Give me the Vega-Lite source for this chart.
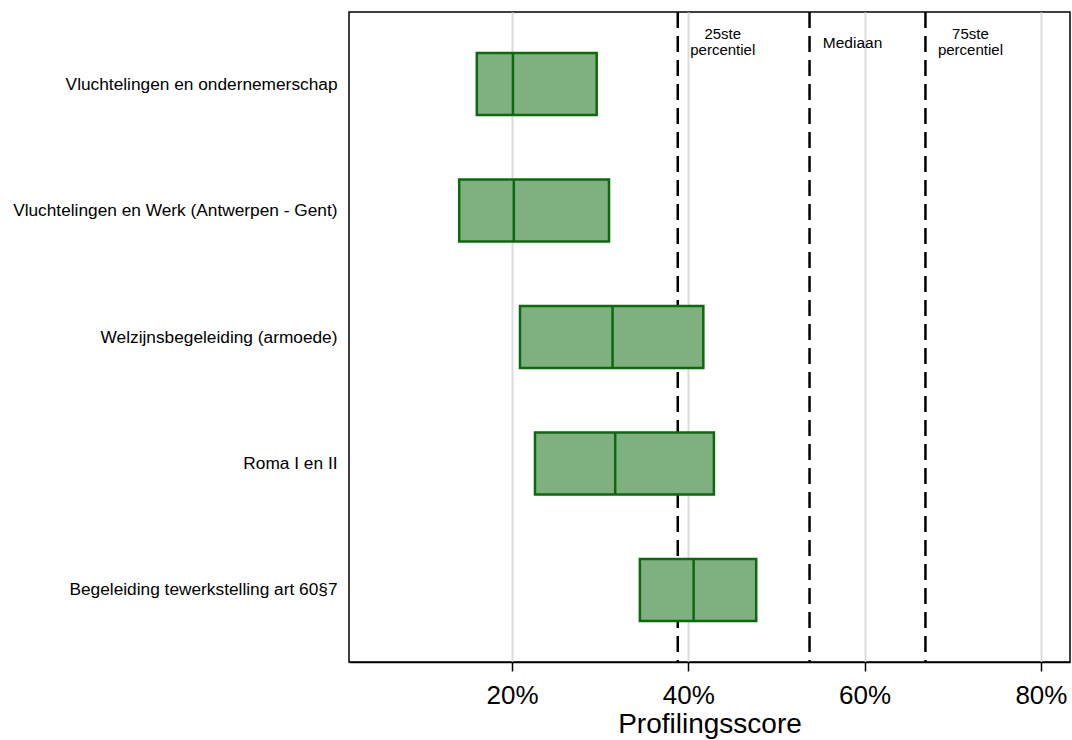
{
  "$schema": "https://vega.github.io/schema/vega-lite/v6.json",
  "width": 721,
  "height": 650,
  "autosize": {"type": "none"},
  "padding": {"left": 349, "top": 12, "right": 2, "bottom": 78},
  "background": "white",
  "config": {
    "font": "Liberation Sans",
    "view": {"stroke": "black", "strokeWidth": 1.5}
  },
  "datasets": {
    "boxes": [
      {"programma": "Vluchtelingen en ondernemerschap", "q1": 16.0, "mediaan": 20.1, "q3": 29.6},
      {"programma": "Vluchtelingen en Werk (Antwerpen - Gent)", "q1": 14.0, "mediaan": 20.2, "q3": 31.0},
      {"programma": "Welzijnsbegeleiding (armoede)", "q1": 20.9, "mediaan": 31.4, "q3": 41.7},
      {"programma": "Roma I en II", "q1": 22.6, "mediaan": 31.7, "q3": 42.9},
      {"programma": "Begeleiding tewerkstelling art 60§7", "q1": 34.5, "mediaan": 40.6, "q3": 47.7}
    ],
    "refs": [
      {"waarde": 38.8, "label": "25ste\npercentiel", "soort": "twee"},
      {"waarde": 53.75, "label": "Mediaan", "soort": "een"},
      {"waarde": 66.9, "label": "75ste\npercentiel", "soort": "twee"}
    ]
  },
  "layer": [
    {
      "data": {"name": "refs"},
      "mark": {"type": "rule", "color": "black", "strokeWidth": 2.5, "strokeDash": [16, 8]},
      "encoding": {
        "x": {
          "field": "waarde", "type": "quantitative",
          "scale": {"domain": [1.5, 83.3], "nice": false, "zero": false},
          "axis": {
            "values": [20, 40, 60, 80],
            "labelExpr": "datum.value + '%'",
            "title": "Profilingsscore",
            "titleFontSize": 28,
            "titleFontWeight": "normal",
            "titleColor": "black",
            "titlePadding": 2,
            "labelFontSize": 26,
            "labelColor": "black",
            "labelPadding": 11,
            "tickColor": "black",
            "tickSize": 9,
            "tickWidth": 1.5,
            "domainColor": "black",
            "domainWidth": 1.5,
            "grid": true,
            "gridColor": "#dcdcdc",
            "gridWidth": 2
          }
        }
      }
    },
    {
      "data": {"name": "refs"},
      "transform": [{"filter": "datum.soort === 'twee'"}],
      "mark": {"type": "text", "fontSize": 15, "lineBreak": "\n", "lineHeight": 16, "align": "center", "baseline": "middle", "dx": 45, "y": 22, "color": "black"},
      "encoding": {
        "x": {"field": "waarde", "type": "quantitative"},
        "text": {"field": "label"}
      }
    },
    {
      "data": {"name": "refs"},
      "transform": [{"filter": "datum.soort === 'een'"}],
      "mark": {"type": "text", "fontSize": 15.5, "align": "center", "baseline": "middle", "dx": 43, "y": 31, "color": "black"},
      "encoding": {
        "x": {"field": "waarde", "type": "quantitative"},
        "text": {"field": "label"}
      }
    },
    {
      "data": {"name": "boxes"},
      "mark": {"type": "bar", "size": 62, "fill": "#80b080", "stroke": "#0b6a0b", "strokeWidth": 2.5, "opacity": 1},
      "encoding": {
        "y": {
          "field": "programma", "type": "nominal", "sort": null,
          "scale": {"type": "point", "padding": 0.57},
          "axis": {
            "title": null,
            "ticks": false,
            "domain": false,
            "labelFontSize": 17.3,
            "labelColor": "black",
            "labelPadding": 12,
            "labelLimit": 400
          }
        },
        "x": {"field": "q1", "type": "quantitative"},
        "x2": {"field": "q3"}
      }
    },
    {
      "data": {"name": "boxes"},
      "mark": {"type": "tick", "orient": "vertical", "size": 61, "thickness": 2.5, "color": "#0b6a0b", "opacity": 1},
      "encoding": {
        "y": {"field": "programma", "type": "nominal", "sort": null},
        "x": {"field": "mediaan", "type": "quantitative"}
      }
    }
  ]
}
